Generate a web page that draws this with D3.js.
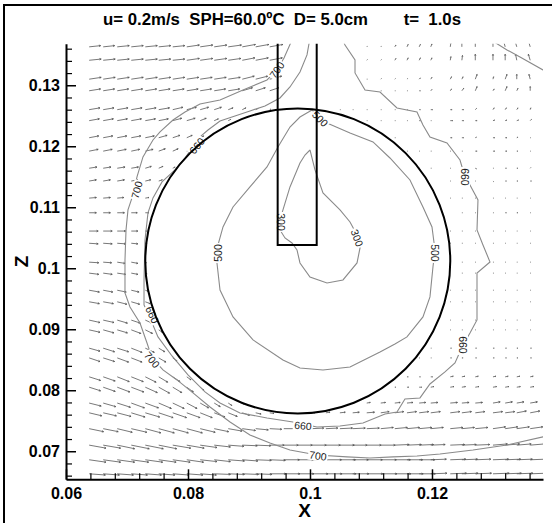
<!DOCTYPE html>
<html>
<head>
<meta charset="utf-8">
<script src="https://cdn.jsdelivr.net/npm/d3@7/dist/d3.min.js"></script>
<style>
  body { margin: 0; background: #fff; }
  svg { display: block; }
</style>
</head>
<body>
<svg id="chart" width="552" height="523"></svg>
<script>
// ---- header text ----
const titleMain = "u= 0.2m/s  SPH=60.0\u00BAC  D= 5.0cm";
const titleTime = "t=  1.0s";

// ---- axes ----
const xTicks = [0.06, 0.08, 0.1, 0.12];
const xTickLabels = ["0.06", "0.08", "0.1", "0.12"];
const zTicks = [0.07, 0.08, 0.09, 0.1, 0.11, 0.12, 0.13];
const zTickLabels = ["0.07", "0.08", "0.09", "0.1", "0.11", "0.12", "0.13"];

// ---- geometry (m) ----
const sphere = { cx: 0.098, cz: 0.1012, r: 0.025 };
const probe = { x0: 0.0947, x1: 0.1011, zBottom: 0.1038 };

// ---- mesh nodes (m) ----
const meshX = [0.0638, 0.0661, 0.0684, 0.0707, 0.0730, 0.0752, 0.0775, 0.0798, 0.0820, 0.0843,
  0.0866, 0.0889, 0.0911, 0.0934, 0.0957, 0.0980, 0.1003, 0.1026, 0.1049, 0.1070,
  0.1093, 0.1116, 0.1139, 0.1159, 0.1179, 0.1198, 0.1230, 0.1249, 0.1271, 0.1300,
  0.1320, 0.1339, 0.1361];
const meshZ = [0.1363, 0.1341, 0.1310, 0.1291, 0.1260, 0.1242, 0.1214, 0.1192, 0.1164, 0.1143,
  0.1115, 0.1091, 0.1061, 0.1041, 0.1010, 0.0992, 0.0964, 0.0945, 0.0915, 0.0899,
  0.0869, 0.0853, 0.0822, 0.0805, 0.0779, 0.0763, 0.0737, 0.0710, 0.0686, 0.0663];

// ---- velocity components at the nodes (cm/s), one row per meshZ ----
const U = [
  [19,19,20,20,20,20,20,21,21,21,22,22,22,22,0,0,0,0,0,0,1,1,2,2,2,2,1,0,0,0,-3,-3,-3],
  [20,20,20,20,20,20,20,21,21,21,21,21,21,21,0,0,0,0,0,0,1,1,2,2,2,2,1,1,0,0,0,-2,-3],
  [20,20,20,20,20,20,20,20,20,20,20,20,20,20,0,0,0,0,0,0,1,1,1,1,2,2,2,2,3,1,3,0,-2],
  [19,19,19,19,19,19,19,19,19,19,19,17,16,15,0,0,0,0,0,0,0,1,1,1,2,2,2,3,3,2,3,2,0],
  [18,18,18,18,18,18,17,16,14,12,8,6,4,2,0,0,0,0,1,1,1,1,1,1,2,3,3,3,2,2,2,2,1],
  [17,17,17,17,17,16,15,14,10,7,4,0,0,0,0,0,0,0,0,0,1,1,1,1,2,1,4,3,3,3,3,3,2],
  [16,16,16,16,15,14,12,9,6,0,0,0,0,0,0,0,0,0,0,0,0,0,1,0,0,0,3,3,2,3,3,2,1],
  [15,15,15,14,13,11,9,6,0,0,0,0,0,0,0,0,0,0,0,0,0,0,0,1,1,1,1,1,3,3,3,2,1],
  [13,13,13,12,10,7,4,0,0,0,0,0,0,0,0,0,0,0,0,0,0,0,0,0,1,1,1,1,2,1,2,2,1],
  [12,12,12,11,9,6,0,0,0,0,0,0,0,0,0,0,0,0,0,0,0,0,0,0,0,0,1,1,1,1,2,2,2],
  [12,12,11,9,6,0,0,0,0,0,0,0,0,0,0,0,0,0,0,0,0,0,0,0,0,0,1,1,1,1,1,1,1],
  [12,12,12,10,6,0,0,0,0,0,0,0,0,0,0,0,0,0,0,0,0,0,0,0,0,0,0,1,1,1,2,2,1],
  [15,15,14,11,3,0,0,0,0,0,0,0,0,0,0,0,0,0,0,0,0,0,0,0,0,0,1,1,1,1,1,1,1],
  [15,15,14,11,3,0,0,0,0,0,0,0,0,0,0,0,0,0,0,0,0,0,0,0,0,0,1,1,1,1,1,1,1],
  [16,14,13,11,2,0,0,0,0,0,0,0,0,0,0,0,0,0,0,0,0,0,0,0,0,0,0,1,1,1,1,1,1],
  [16,15,14,11,3,0,0,0,0,0,0,0,0,0,0,0,0,0,0,0,0,0,0,0,0,0,0,1,1,1,1,1,1],
  [17,16,15,13,5,0,0,0,0,0,0,0,0,0,0,0,0,0,0,0,0,0,0,0,0,0,1,1,1,1,1,1,1],
  [17,17,16,14,8,0,0,0,0,0,0,0,0,0,0,0,0,0,0,0,0,0,0,0,0,0,1,1,1,1,1,1,1],
  [18,18,17,15,11,0,0,0,0,0,0,0,0,0,0,0,0,0,0,0,0,0,0,0,0,0,1,1,1,1,1,1,1],
  [18,18,17,16,12,6,0,0,0,0,0,0,0,0,0,0,0,0,0,0,0,0,0,0,0,0,1,1,1,1,1,1,1],
  [18,19,19,18,15,10,0,0,0,0,0,0,0,0,0,0,0,0,0,0,0,0,0,0,0,1,2,2,2,2,2,2,2],
  [18,19,19,18,16,12,7,0,0,0,0,0,0,0,0,0,0,0,0,0,0,0,0,0,1,1,2,2,2,2,2,2,2],
  [19,20,20,20,18,15,12,7,0,0,0,0,0,0,0,0,0,0,0,0,0,0,0,2,2,3,5,5,5,5,5,5,5],
  [19,20,21,21,20,18,15,11,6,0,0,0,0,0,0,0,0,0,0,0,0,0,2,3,4,5,6,6,6,6,6,6,6],
  [20,21,22,22,22,21,19,17,14,10,6,3,0,0,0,0,0,0,0,0,6,8,9,10,11,12,12,12,12,12,12,12,12],
  [21,22,23,23,24,24,23,22,20,18,15,12,9,7,5,0,5,7,9,11,13,14,15,16,16,16,16,16,16,16,16,16,16],
  [24,25,25,26,26,26,26,26,25,24,23,22,21,20,20,20,20,20,21,21,21,21,21,21,21,21,21,21,21,21,21,21,21],
  [28,29,29,30,30,30,30,29,28,27,26,25,25,24,24,24,24,24,24,24,24,24,24,24,24,24,24,24,24,24,24,24,24],
  [28,29,29,29,29,29,29,28,28,27,27,26,26,26,26,26,26,26,26,26,26,26,26,26,26,26,26,26,26,26,26,26,26],
  [27,27,27,27,27,27,27,27,27,27,27,27,27,27,27,27,27,27,27,27,27,27,27,27,27,27,27,27,27,27,27,27,27]
];
const V = [
  [2,2,2,2,2,2,2,3,3,3,3,4,4,4,0,0,0,0,0,0,1,1,3,4,4,5,7,10,10,11,11,10,10],
  [2,2,2,2,2,2,2,3,3,3,3,4,4,4,0,0,0,0,0,0,1,1,3,4,4,4,6,8,10,10,10,10,10],
  [3,3,3,3,3,3,3,3,3,3,3,5,5,5,0,0,0,0,0,0,0,1,1,1,2,3,4,4,8,4,8,8,8],
  [3,3,3,3,3,3,3,3,3,3,3,5,5,5,0,0,0,0,0,0,0,0,0,0,0,2,3,4,7,3,7,4,7],
  [3,3,3,3,3,3,4,4,4,4,3,3,2,1,0,0,0,0,0,0,0,0,0,0,0,0,0,0,2,3,3,3,3],
  [3,3,3,3,3,3,4,4,4,3,2,0,0,0,0,0,0,0,0,0,0,0,0,0,0,0,0,0,0,1,1,1,2],
  [3,3,3,3,3,4,4,4,3,0,0,0,0,0,0,0,0,0,0,0,0,0,0,0,0,0,0,0,1,0,0,1,0],
  [3,3,3,3,3,4,4,3,0,0,0,0,0,0,0,0,0,0,0,0,0,0,0,0,0,0,0,0,0,0,0,0,0],
  [2,2,2,2,3,3,2,0,0,0,0,0,0,0,0,0,0,0,0,0,0,0,0,0,0,0,0,0,-1,0,0,0,1],
  [2,2,2,2,2,2,0,0,0,0,0,0,0,0,0,0,0,0,0,0,0,0,0,0,0,0,0,0,0,-1,0,0,0],
  [1,1,1,1,1,0,0,0,0,0,0,0,0,0,0,0,0,0,0,0,0,0,0,0,0,0,0,0,0,0,0,0,0],
  [0,0,0,0,0,0,0,0,0,0,0,0,0,0,0,0,0,0,0,0,0,0,0,0,0,0,0,0,0,0,0,0,0],
  [0,0,0,0,0,0,0,0,0,0,0,0,0,0,0,0,0,0,0,0,0,0,0,0,0,0,0,0,0,0,0,0,0],
  [-1,-1,-1,-1,0,0,0,0,0,0,0,0,0,0,0,0,0,0,0,0,0,0,0,0,0,0,0,0,0,0,0,0,0],
  [-1,-1,-2,-2,-1,0,0,0,0,0,0,0,0,0,0,0,0,0,0,0,0,0,0,0,0,0,0,0,0,0,0,0,0],
  [-2,-2,-2,-2,-1,0,0,0,0,0,0,0,0,0,0,0,0,0,0,0,0,0,0,0,0,0,0,0,0,0,0,0,0],
  [-3,-3,-3,-3,-2,0,0,0,0,0,0,0,0,0,0,0,0,0,0,0,0,0,0,0,0,0,0,0,0,0,0,0,0],
  [-3,-3,-4,-4,-3,0,0,0,0,0,0,0,0,0,0,0,0,0,0,0,0,0,0,0,0,0,0,0,0,0,0,0,0],
  [-4,-4,-5,-5,-5,0,0,0,0,0,0,0,0,0,0,0,0,0,0,0,0,0,0,0,0,0,0,0,0,0,0,0,0],
  [-4,-5,-5,-6,-6,-4,0,0,0,0,0,0,0,0,0,0,0,0,0,0,0,0,0,0,0,0,0,0,0,0,0,0,0],
  [-5,-6,-6,-7,-7,-6,0,0,0,0,0,0,0,0,0,0,0,0,0,0,0,0,0,0,0,0,0,0,0,0,0,0,0],
  [-6,-6,-7,-7,-8,-7,-5,0,0,0,0,0,0,0,0,0,0,0,0,0,0,0,0,0,0,0,0,0,0,0,0,0,0],
  [-6,-7,-8,-8,-9,-9,-8,-5,0,0,0,0,0,0,0,0,0,0,0,0,0,0,0,0,0,0,1,1,1,1,1,1,1],
  [-6,-7,-8,-8,-9,-10,-9,-8,-5,0,0,0,0,0,0,0,0,0,0,0,0,0,0,0,0,1,1,1,1,1,1,1,1],
  [-5,-6,-7,-8,-8,-9,-9,-9,-8,-6,-4,-2,0,0,0,0,0,0,0,0,1,1,1,1,1,1,1,1,1,2,2,2,2],
  [-5,-5,-6,-7,-7,-8,-8,-8,-8,-7,-6,-4,-2,-1,0,0,0,1,1,1,1,2,2,2,2,2,2,2,2,2,2,3,3],
  [-5,-5,-6,-6,-7,-7,-7,-7,-6,-5,-4,-3,-2,-1,0,0,1,1,1,1,1,2,2,2,2,2,2,2,2,3,3,3,3],
  [-5,-5,-6,-6,-6,-6,-5,-5,-4,-3,-2,-1,-1,0,0,0,0,0,0,0,0,0,1,1,1,1,1,1,1,2,2,2,2],
  [-4,-4,-4,-4,-4,-4,-4,-4,-3,-3,-2,-2,-1,-1,0,0,0,0,0,0,0,0,0,0,0,1,1,1,1,1,1,1,1],
  [-2,-2,-2,-2,-2,-2,-2,-2,-2,-1,-1,-1,-1,0,0,0,0,0,0,0,0,0,0,0,0,1,1,1,1,1,1,1,1]
];

// ---- contour lines (x, z in m) ----
const contour700 = [[0.09705,0.13743],[0.09574,0.13448],[0.09459,0.13251],[0.09295,0.13087],[0.08902,0.12923],
  [0.08525,0.12759],[0.08197,0.12694],[0.07951,0.12562],[0.07754,0.12431],[0.07541,0.12235],[0.07426,0.12103],
  [0.07262,0.11825],[0.07164,0.11497],[0.07098,0.11202],[0.07016,0.10956],[0.06984,0.10628],[0.06967,0.10136],
  [0.06967,0.09595],[0.07049,0.09366],[0.07213,0.09103],[0.07328,0.08775],[0.0741,0.0853],[0.0759,0.08333],
  [0.0782,0.08169],[0.08082,0.07956],[0.08361,0.07726],[0.08689,0.0748],[0.09016,0.07267],[0.09344,0.07136],
  [0.09672,0.07021],[0.10115,0.06939],[0.10607,0.06907],[0.10984,0.0689],[0.11361,0.06907],[0.11754,0.06923],
  [0.12131,0.06956],[0.12672,0.07021],[0.1323,0.07103],[0.1382,0.07235],[0.13902,0.07251]];
const contour700Corner = [[0.12967,0.13743],[0.1323,0.13579],[0.13443,0.13464],[0.1382,0.13251],[0.13934,0.13185]];
const contour660 = [[0.10000,0.13775],[0.09951,0.13497],[0.09836,0.13218],[0.09672,0.12972],[0.09508,0.12792],
  [0.09262,0.12661],[0.09016,0.12579],[0.08770,0.12497],[0.08525,0.12415],[0.08328,0.12267],[0.08197,0.12153],
  [0.08098,0.12021],[0.07951,0.11808],[0.07787,0.11612],[0.07574,0.11415],[0.07426,0.11153],[0.07344,0.10907],
  [0.07295,0.10464],[0.07279,0.09808],
  [0.07279,0.09398],[0.07377,0.09185],[0.07508,0.08874],[0.07738,0.08562],[0.08000,0.08251],[0.08279,0.07972],
  [0.08525,0.07792],[0.08852,0.07628],[0.09295,0.07546],[0.09721,0.07480],[0.10115,0.07398],[0.10492,0.07415],
  [0.10869,0.07464],[0.11230,0.07612],[0.11426,0.07644],[0.11557,0.07857],[0.11803,0.07874],[0.11967,0.08103],
  [0.12213,0.08300],[0.12377,0.08448],[0.12508,0.08743],[0.12623,0.08939],[0.12738,0.09153],[0.12738,0.09644],
  [0.12738,0.09923],[0.12951,0.10103],[0.12836,0.10382],[0.12738,0.10628],[0.12754,0.11120],[0.12623,0.11366],
  [0.12541,0.11497],[0.12459,0.11775],[0.12246,0.12054],[0.11967,0.12153],[0.11852,0.12349],[0.11754,0.12562],
  [0.11426,0.12628],[0.11148,0.12890],[0.10902,0.12923],[0.10738,0.13202],[0.10738,0.13415],[0.10574,0.13661],
  [0.10525,0.13775]];
const contour500 = [[0.10033,0.12595],[0.10131,0.12497],[0.10279,0.12382],[0.10656,0.12218],[0.11033,0.12071],
  [0.11311,0.11808],[0.11639,0.11448],[0.11852,0.11005],[0.12000,0.10677],[0.12049,0.10300],[0.12016,0.10021],
  [0.11967,0.09530],[0.11852,0.09202],[0.11590,0.08874],[0.11393,0.08759],[0.11148,0.08628],[0.10656,0.08382],
  [0.10213,0.08333],[0.09836,0.08366],[0.09557,0.08497],[0.09066,0.08825],[0.08738,0.09202],[0.08525,0.09644],
  [0.08475,0.10087],[0.08492,0.10382],[0.08574,0.10677],[0.08738,0.11005],[0.09016,0.11333],[0.09295,0.11661],
  [0.09475,0.11989],[0.09672,0.12316],[0.09836,0.12480],[0.10033,0.12595]];
const contour300 = [[0.10000,0.11939],[0.10082,0.11612],[0.10213,0.11235],[0.10492,0.10956],[0.10656,0.10759],
  [0.10771,0.10546],[0.10820,0.10333],[0.10771,0.10087],[0.10541,0.09808],[0.10279,0.09759],[0.10000,0.09857],
  [0.09836,0.10087],[0.09787,0.10300],[0.09705,0.10415],[0.09590,0.10497],[0.09508,0.10628],[0.09508,0.10792],
  [0.09557,0.10956],[0.09672,0.11333],[0.09836,0.11726],[0.09918,0.11857],[0.10000,0.11939]];

// contour labels: text, x, z, angle (deg)
const contourLabels = [
  ["700", 0.09459, 0.13251, -55], ["700", 0.07164, 0.11284, -75], ["700", 0.07410, 0.08497, 50],
  ["700", 0.10131, 0.06923, 8],
  ["660", 0.08148, 0.12005, -50], ["660", 0.07410, 0.09235, 65], ["660", 0.09885, 0.07415, 5],
  ["660", 0.12508, 0.08743, 90], ["660", 0.12541, 0.11497, 90],
  ["500", 0.08492, 0.10251, -90], ["500", 0.12049, 0.10251, 90], ["500", 0.10164, 0.12448, 45],
  ["300", 0.09525, 0.10759, 90], ["300", 0.10771, 0.10497, 70]
];

// ---------------- drawing ----------------
const svg = d3.select("#chart");
const FONT = "'Liberation Sans', Arial, Helvetica, sans-serif";

const x = d3.scaleLinear().domain([0.06, 0.1382]).range([66, 543]);
const z = d3.scaleLinear().domain([0.0654, 0.1368]).range([479.3, 43.8]);
const vel = d3.scaleLinear().domain([0, 20]).range([0, 12]); // cm/s -> px

// outer frame
svg.append("rect").attr("x", 4).attr("y", 5).attr("width", 600).attr("height", 600)
  .attr("fill", "none").attr("stroke", "#000").attr("stroke-width", 2);

svg.append("clipPath").attr("id", "plotClip").append("rect")
  .attr("x", x.range()[0]).attr("y", z.range()[1])
  .attr("width", x.range()[1] - x.range()[0]).attr("height", z.range()[0] - z.range()[1]);

const plot = svg.append("g").attr("clip-path", "url(#plotClip)");

// velocity vectors
let vp = "";
meshZ.forEach((zv, i) => {
  meshX.forEach((xv, j) => {
    const u = U[i][j], v = V[i][j];
    if (u === 0 && v === 0) return;
    const x0 = x(xv), y0 = z(zv);
    const dx = vel(u), dy = -vel(v);
    const len = Math.hypot(dx, dy);
    const x1 = x0 + dx, y1 = y0 + dy;
    const a = Math.atan2(dy, dx);
    const h = Math.min(1.8, len * 0.25);
    const s = 0.45;
    vp += `M${x0.toFixed(2)},${y0.toFixed(2)}L${x1.toFixed(2)},${y1.toFixed(2)}`;
    vp += `M${(x1 - h * Math.cos(a - s)).toFixed(2)},${(y1 - h * Math.sin(a - s)).toFixed(2)}L${x1.toFixed(2)},${y1.toFixed(2)}L${(x1 - h * Math.cos(a + s)).toFixed(2)},${(y1 - h * Math.sin(a + s)).toFixed(2)}`;
  });
});
plot.append("path").attr("d", vp).attr("fill", "none").attr("stroke", "#555").attr("stroke-width", 0.8);

// contour lines
const line = d3.line().x(d => x(d[0])).y(d => z(d[1]));
[contour700, contour700Corner, contour660, contour500, contour300].forEach(c => {
  plot.append("path").attr("d", line(c)).attr("fill", "none")
    .attr("stroke", "#8a8a8a").attr("stroke-width", 1.1);
});

// contour labels
contourLabels.forEach(([t, lx, lz, ang]) => {
  const g = plot.append("g").attr("transform", `translate(${x(lx)},${z(lz)}) rotate(${ang})`);
  g.append("rect").attr("x", -10).attr("y", -5).attr("width", 20).attr("height", 10).attr("fill", "#fff");
  g.append("text").text(t).attr("text-anchor", "middle").attr("dy", "0.35em")
    .attr("font-family", FONT).attr("font-size", 10.5).attr("fill", "#222");
});

// sphere and probe
plot.append("circle").attr("cx", x(sphere.cx)).attr("cy", z(sphere.cz))
  .attr("r", x(sphere.cx + sphere.r) - x(sphere.cx))
  .attr("fill", "none").attr("stroke", "#000").attr("stroke-width", 2);
plot.append("path")
  .attr("d", `M${x(probe.x0)},${z(0.14)}V${z(probe.zBottom)}H${x(probe.x1)}V${z(0.14)}`)
  .attr("fill", "none").attr("stroke", "#000").attr("stroke-width", 2);

// axes
const xMinor = d3.range(16, 35).filter(k => k % 5 !== 0).map(k => k * 0.004);
const zMinor = d3.range(33, 69).filter(k => k % 5 !== 0).map(k => k * 0.002);

const axisStyle = g => {
  g.selectAll(".domain").attr("stroke", "#000").attr("stroke-width", 2);
  g.selectAll(".tick line").attr("stroke", "#000").attr("stroke-width", 1.5);
  g.selectAll("text").attr("font-family", FONT).attr("font-size", 16)
    .attr("font-weight", "bold").attr("fill", "#000");
};

svg.append("g").attr("transform", `translate(0,${z.range()[0]})`)
  .call(d3.axisBottom(x).tickValues(xMinor).tickSize(-6).tickFormat(""))
  .call(g => g.select(".domain").remove())
  .call(g => g.selectAll(".tick line").attr("stroke", "#000").attr("stroke-width", 1.2));
svg.append("g").attr("transform", `translate(${x.range()[0]},0)`)
  .call(d3.axisLeft(z).tickValues(zMinor).tickSize(-6).tickFormat(""))
  .call(g => g.select(".domain").remove())
  .call(g => g.selectAll(".tick line").attr("stroke", "#000").attr("stroke-width", 1.2));

svg.append("g").attr("transform", `translate(0,${z.range()[0]})`)
  .call(d3.axisBottom(x).tickValues(xTicks).tickSize(-10).tickSizeOuter(0).tickPadding(8)
    .tickFormat((d, i) => xTickLabels[i]))
  .call(axisStyle);
svg.append("g").attr("transform", `translate(${x.range()[0]},0)`)
  .call(d3.axisLeft(z).tickValues(zTicks).tickSize(-10).tickSizeOuter(0).tickPadding(6)
    .tickFormat((d, i) => zTickLabels[i]))
  .call(axisStyle);

// axis titles
svg.append("text").text("X").attr("x", (x.range()[0] + x.range()[1]) / 2).attr("y", 517)
  .attr("text-anchor", "middle").attr("font-family", FONT).attr("font-size", 19).attr("font-weight", "bold");
svg.append("text").text("Z").attr("transform", `translate(28,${(z.range()[0] + z.range()[1]) / 2}) rotate(-90)`)
  .attr("text-anchor", "middle").attr("font-family", FONT).attr("font-size", 19).attr("font-weight", "bold");

// title
svg.append("text").text(titleMain).attr("x", 103).attr("y", 25)
  .style("white-space", "pre")
  .attr("font-family", FONT).attr("font-size", 16.8).attr("font-weight", "bold");
svg.append("text").text(titleTime).attr("x", 461).attr("y", 25).attr("text-anchor", "end")
  .style("white-space", "pre")
  .attr("font-family", FONT).attr("font-size", 16.8).attr("font-weight", "bold");
</script>
</body>
</html>
